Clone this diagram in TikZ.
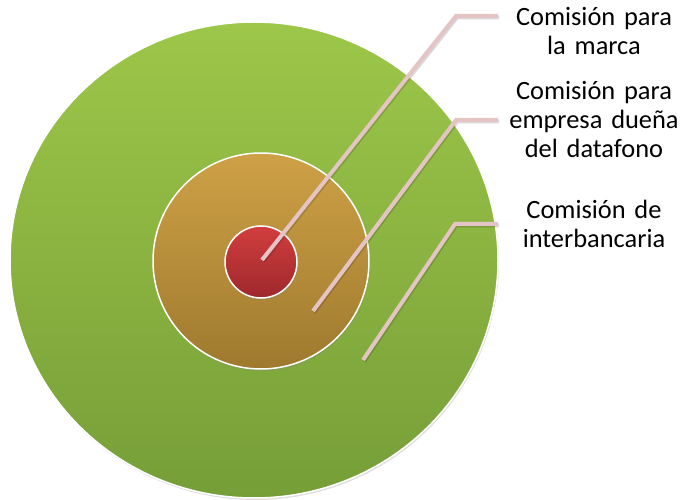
\documentclass[tikz,border=0pt]{standalone}
\usepackage{fontspec}
\setmainfont{Carlito}
\usepackage{xcolor}
\usepackage{tikz}
\usetikzlibrary{shapes.geometric,shadows}

\definecolor{ringgreentop}{RGB}{157,199,73}
\definecolor{ringgreenbot}{RGB}{118,158,56}
\definecolor{ringgoldtop}{RGB}{206,161,70}
\definecolor{ringgoldbot}{RGB}{158,121,46}
\definecolor{ringredtop}{RGB}{210,62,62}
\definecolor{ringredbot}{RGB}{158,40,44}
\definecolor{leadercol}{RGB}{228,196,196}

\tikzset{
  ring/.style={draw=white, line width=1.5pt, inner sep=0pt, shading=axis,
    drop shadow={shadow xshift=1pt, shadow yshift=-2pt, opacity=0.25}},
  leader/.style={draw=leadercol, line width=4pt,
    preaction={draw=black, opacity=0.15, line width=4pt, transform canvas={xshift=1pt, yshift=-1.5pt}}},
  ringlabel/.style={text width=172pt, inner xsep=10pt, align=center,
    font=\fontsize{26.4pt}{29pt}\selectfont}
}

\begin{document}
\begin{tikzpicture}[x=1pt, y=-1pt]%
\useasboundingbox (0,0) rectangle (681,500);%
\node[ring, ellipse, minimum width=488pt, minimum height=476pt, top color=ringgreentop, bottom color=ringgreenbot] (green) at (254,260) {};%
\node[ring, circle, minimum size=216pt, top color=ringgoldtop, bottom color=ringgoldbot] (gold) at (261,261) {};%
\node[ring, circle, minimum size=72pt, top color=ringredtop, bottom color=ringredbot] (red) at (261,262) {};%
\node[ringlabel] (lab1) at (594,31) {Comisión para\\la marca};%
\node[ringlabel] (lab2) at (594,120) {Comisión para\\empresa dueña\\del datafono};%
\node[ringlabel] (lab3) at (594,223.5) {Comisión de\\interbancaria};%
\coordinate (m1) at (262,260);%
\coordinate (k1) at (456,16);%
\coordinate (m2) at (313,311);%
\coordinate (k2) at (456,120);%
\coordinate (m3) at (363,360);%
\coordinate (k3) at (455,224);%
\path[leader] (m1) -- (k1) -- (k1 -| lab1.west);%
\path[leader] (m2) -- (k2) -- (k2 -| lab2.west);%
\path[leader] (m3) -- (k3) -- (k3 -| lab3.west);%
\end{tikzpicture}
\end{document}
